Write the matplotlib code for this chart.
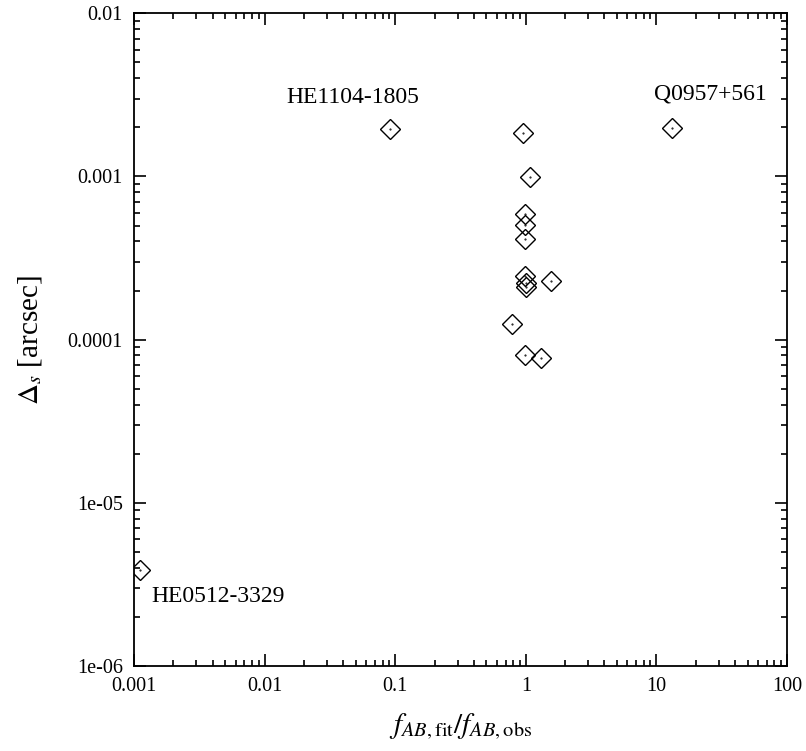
import numpy as np
import matplotlib
matplotlib.use('Agg')
import matplotlib.pyplot as plt
from matplotlib.ticker import FixedLocator, FixedFormatter, LogLocator, NullFormatter

plt.rcParams['font.family'] = ['Liberation Serif', 'DejaVu Serif']
plt.rcParams['mathtext.fontset'] = 'stix'

# flux ratio fit/obs vs astrometric offset (arcsec)
flux_ratio = [0.091, 13.2, 0.00111,
              0.95, 1.07, 0.99, 0.99, 0.99, 0.98, 1.01, 1.0, 1.56, 0.78, 0.99, 1.30]
delta_s = [0.00195, 0.00197, 3.9e-6,
           0.00184, 0.00099, 0.000588, 0.000505, 0.000415, 0.000244, 0.000222,
           0.00021, 0.00023, 0.000124, 8.05e-5, 7.73e-5]

# labelled lenses: name, index into arrays, text offset (pixels), alignment
labels = [("HE1104-1805", 0, (-37, 32), 'center'),
          ("Q0957+561", 1, (38, 34), 'center'),
          ("HE0512-3329", 2, (11, -27), 'left')]

xticks = [0.001, 0.01, 0.1, 1, 10, 100]
xticklabels = ["0.001", "0.01", "0.1", "1", "10", "100"]
yticks = [1e-6, 1e-5, 1e-4, 1e-3, 1e-2]
yticklabels = ["1e-06", "1e-05", "0.0001", "0.001", "0.01"]

fig = plt.figure(figsize=(8.06, 7.51), dpi=100)
ax = fig.add_axes([134 / 806, 85 / 751, 653 / 806, 652.7 / 751])

ax.plot(flux_ratio, delta_s, linestyle='none', marker='D', markersize=10.3,
        markerfacecolor='none', markeredgecolor='black', markeredgewidth=1.0)
ax.plot(flux_ratio, delta_s, linestyle='none', marker='o', markersize=0.5,
        color='black')

for name, i, off, ha in labels:
    ax.annotate(name, (flux_ratio[i], delta_s[i]), xytext=off,
                textcoords='offset pixels', ha=ha, va='center', fontsize=17)

ax.set_xscale('log')
ax.set_yscale('log')
ax.set_xlim(0.001, 100)
ax.set_ylim(1e-6, 0.01)

ax.xaxis.set_major_locator(FixedLocator(xticks))
ax.xaxis.set_major_formatter(FixedFormatter(xticklabels))
ax.yaxis.set_major_locator(FixedLocator(yticks))
ax.yaxis.set_major_formatter(FixedFormatter(yticklabels))
ax.xaxis.set_minor_locator(LogLocator(base=10, subs=np.arange(2, 10)))
ax.yaxis.set_minor_locator(LogLocator(base=10, subs=np.arange(2, 10)))
ax.xaxis.set_minor_formatter(NullFormatter())
ax.yaxis.set_minor_formatter(NullFormatter())

ax.tick_params(which='both', direction='in', top=True, right=True, width=1.2)
ax.tick_params(which='major', length=8.5, labelsize=14.5, pad=8)
ax.tick_params(which='minor', length=4.3)
for sp in ax.spines.values():
    sp.set_linewidth(1.3)

ax.set_xlabel(r'$f_{AB,\mathrm{fit}}/f_{AB,\mathrm{obs}}$', fontsize=21, labelpad=11)
ax.set_ylabel(r'$\Delta_{s}$ [arcsec]', fontsize=21, labelpad=17)

fig.savefig('out.png', dpi=100)
